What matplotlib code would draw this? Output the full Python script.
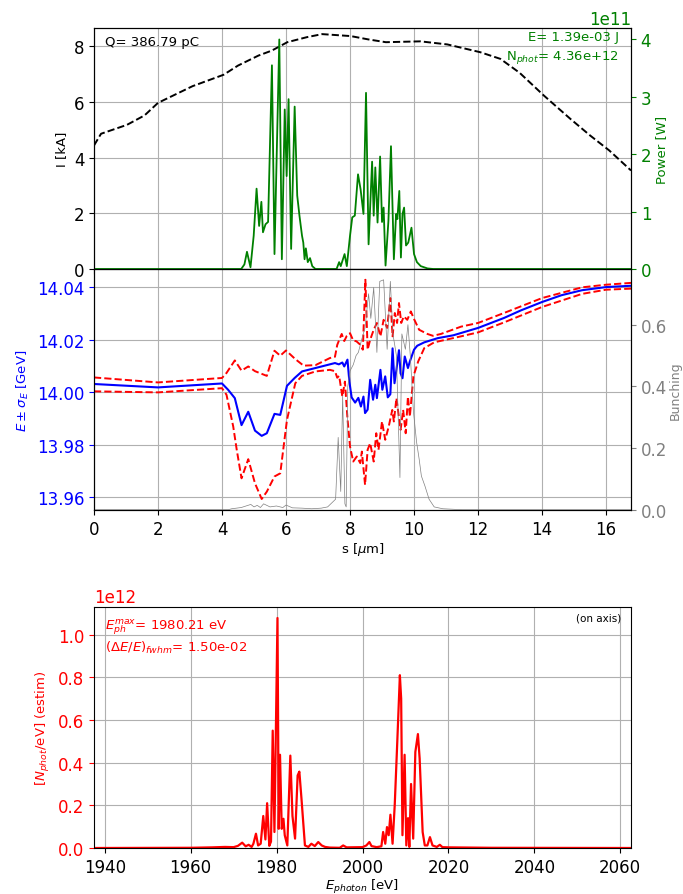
import numpy as np
import matplotlib
matplotlib.use("Agg")
import matplotlib.pyplot as plt

# ---------------- beam current and radiated power along the bunch ----------------
s_current = [0.0, 0.22, 1.03, 1.58, 2.0, 3.08, 4.05, 4.5, 5.14, 5.56, 6.04, 6.65, 7.13,
             8.02, 8.57, 9.12, 10.2, 11.04, 12.07, 12.7, 13.3, 14.06, 14.88, 15.5, 16.1, 16.78]
current_kA = [4.44, 4.86, 5.18, 5.52, 5.97, 6.57, 6.98, 7.31, 7.67, 7.85, 8.15, 8.33, 8.44,
              8.37, 8.25, 8.15, 8.18, 8.07, 7.79, 7.55, 7.05, 6.23, 5.40, 4.80, 4.26, 3.54]

s_power = [0.0, 4.6, 4.70, 4.78, 4.89, 4.99, 5.08, 5.16, 5.23, 5.28, 5.36, 5.44, 5.56, 5.64,
           5.79, 5.87, 5.96, 6.02, 6.08, 6.16, 6.27, 6.35, 6.42, 6.50, 6.54, 6.58, 6.62, 6.68,
           6.75, 6.82, 6.92, 7.58, 7.66, 7.71, 7.83, 7.90, 8.00, 8.07, 8.15, 8.25, 8.33, 8.42,
           8.50, 8.58, 8.69, 8.74, 8.79, 8.86, 8.94, 9.00, 9.05, 9.11, 9.20, 9.28, 9.37, 9.44,
           9.48, 9.54, 9.59, 9.64, 9.69, 9.75, 9.82, 9.92, 10.00, 10.09, 10.21, 10.42, 10.6,
           16.78]
power_1e11 = [0.0, 0.0, 0.08, 0.30, 0.03, 0.58, 1.40, 0.75, 1.17, 0.64, 0.78, 0.82, 3.55, 0.26,
              4.00, 0.17, 2.78, 1.62, 2.96, 0.35, 2.83, 1.28, 0.93, 0.58, 0.46, 0.17, 0.36, 0.12,
              0.19, 0.05, 0.0, 0.0, 0.12, 0.05, 0.26, 0.05, 0.58, 0.90, 0.93, 1.65, 1.39, 0.96,
              3.07, 0.43, 1.87, 0.93, 1.77, 0.81, 1.96, 0.82, 1.07, 0.06, 0.84, 2.14, 0.17, 0.96,
              0.87, 1.36, 0.20, 0.96, 1.07, 0.41, 0.46, 0.72, 0.26, 0.12, 0.05, 0.01, 0.0,
              0.0]

# ---------------- slice energy, energy spread envelope and bunching ----------------
s_mean = [0.0, 2.0, 4.0, 4.19, 4.40, 4.61, 4.82, 5.03, 5.24, 5.40, 5.64, 5.82, 6.03, 6.27,
          6.50, 6.92, 7.53, 7.65, 7.76, 7.82, 7.92, 7.98, 8.05, 8.16, 8.26, 8.34, 8.42, 8.47,
          8.55, 8.63, 8.72, 8.79, 8.84, 8.95, 9.01, 9.10, 9.18, 9.26, 9.33, 9.39, 9.45, 9.53,
          9.58, 9.64, 9.71, 9.81, 9.87, 10.0, 10.1, 10.32, 10.74, 11.23, 12.0, 12.81, 13.34,
          14.0, 14.61, 15.25, 16.0, 16.78]
E_mean = [14.0031, 14.0018, 14.0033, 14.0009, 13.9977, 13.9874, 13.9925, 13.9853, 13.9833,
          13.9843, 13.9917, 13.9913, 14.0024, 14.0054, 14.0079, 14.0092, 14.0111, 14.0106,
          14.0113, 14.0098, 14.0124, 14.0040, 13.9980, 13.9960, 13.9978, 13.9945, 13.9983,
          13.9920, 13.9933, 14.0047, 13.9971, 14.0028, 13.9977, 14.0085, 14.0009, 14.0060,
          13.9980, 13.9992, 14.0167, 14.0034, 14.0085, 14.0160, 14.0072, 14.0053, 14.0136,
          14.0092, 14.0117, 14.0162, 14.0177, 14.0190, 14.0206, 14.0217, 14.0245, 14.0283,
          14.0312, 14.0344, 14.0370, 14.0389, 14.0401, 14.0406]

s_upper = [0.0, 2.0, 4.0, 4.14, 4.40, 4.61, 4.82, 5.03, 5.40, 5.64, 5.82, 6.00, 6.29, 6.55,
           6.92, 7.37, 7.53, 7.60, 7.68, 7.74, 7.82, 7.90, 8.00, 8.10, 8.20, 8.32, 8.40, 8.48,
           8.55, 8.63, 8.74, 8.84, 8.95, 9.05, 9.16, 9.26, 9.33, 9.40, 9.47, 9.53, 9.60, 9.68,
           9.79, 9.90, 10.0, 10.16, 10.42, 10.59, 10.84, 11.47, 12.0, 12.81, 14.0, 15.25, 16.0,
           16.78]
E_upper = [14.0056, 14.0037, 14.0054, 14.0073, 14.0121, 14.0082, 14.0098, 14.0080, 14.0062,
           14.0158, 14.0139, 14.0159, 14.0126, 14.0101, 14.0103, 14.0130, 14.0135, 14.0180,
           14.0205, 14.0222, 14.0195, 14.0215, 14.0225, 14.0197, 14.0194, 14.0181, 14.0162,
           14.0429, 14.0162, 14.0200, 14.0238, 14.0264, 14.0213, 14.0276, 14.0245, 14.0359,
           14.0213, 14.0302, 14.0264, 14.0340, 14.0264, 14.0289, 14.0276, 14.0308, 14.0279,
           14.0238, 14.0222, 14.0215, 14.0222, 14.0250, 14.0264, 14.0302, 14.0359, 14.0400,
           14.0410, 14.0417]

s_lower = [0.0, 2.0, 4.0, 4.14, 4.35, 4.46, 4.61, 4.82, 5.03, 5.24, 5.40, 5.64, 5.82, 6.03,
           6.29, 6.50, 6.92, 7.37, 7.53, 7.60, 7.66, 7.76, 7.84, 7.92, 8.0, 8.10, 8.21, 8.32,
           8.37, 8.47, 8.55, 8.63, 8.74, 8.82, 8.89, 9.00, 9.10, 9.21, 9.32, 9.37, 9.45, 9.58,
           9.66, 9.74, 9.81, 9.87, 9.98, 10.13, 10.32, 10.63, 11.47, 12.0, 12.81, 14.0, 15.25,
           16.0, 16.78]
E_lower = [14.0003, 13.9999, 14.0015, 13.9990, 13.9869, 13.9780, 13.9671, 13.9744, 13.9652,
           13.9592, 13.9620, 13.9678, 13.9690, 13.9894, 14.0034, 14.0062, 14.0079, 14.0085,
           14.0080, 14.0055, 14.0062, 13.9983, 14.0040, 13.9900, 13.9792, 13.9735, 13.9754,
           13.9729, 13.9773, 13.9646, 13.9780, 13.9805, 13.9735, 13.9843, 13.9780, 13.9888,
           13.9818, 13.9869, 13.9932, 13.9888, 13.9977, 13.9856, 13.9932, 13.9843, 13.9983,
           13.9907, 14.0060, 14.0117, 14.0168, 14.0190, 14.0213, 14.0228, 14.0266, 14.0325,
           14.0375, 14.0391, 14.0395]

s_bunch = [0.0, 4.2, 4.3, 4.6, 4.9, 5.0, 5.1, 5.2, 5.3, 5.5, 5.7, 5.9, 6.0, 6.2, 6.5, 6.8,
           7.1, 7.3, 7.45, 7.55, 7.63, 7.71, 7.77, 7.84, 7.88, 7.93, 8.0, 8.1, 8.19, 8.26,
           8.36, 8.47, 8.58, 8.65, 8.74, 8.84, 8.93, 9.05, 9.16, 9.26, 9.34, 9.45, 9.56, 9.62,
           9.73, 9.81, 9.89, 9.98, 10.08, 10.16, 10.23, 10.34, 10.47, 10.63, 10.9, 11.5, 16.78]
bunching = [0.001, 0.001, 0.004, 0.008, 0.018, 0.010, 0.015, 0.008, 0.020, 0.010, 0.013,
            0.008, 0.016, 0.007, 0.006, 0.004, 0.006, 0.010, 0.025, 0.035, 0.235, 0.060,
            0.370, 0.020, 0.010, 0.400, 0.450, 0.470, 0.500, 0.510, 0.550, 0.590, 0.700,
            0.620, 0.720, 0.510, 0.740, 0.745, 0.520, 0.740, 0.570, 0.500, 0.105, 0.570,
            0.520, 0.600, 0.490, 0.320, 0.220, 0.165, 0.110, 0.078, 0.035, 0.010, 0.004,
            0.001, 0.001]

# ---------------- on-axis photon spectrum ----------------
E_photon = [1937.5, 1960.0, 1965.0, 1968.0, 1970.0, 1971.0, 1972.0, 1972.8, 1973.5, 1974.2,
            1974.6, 1975.2, 1975.7, 1976.3, 1976.9, 1977.4, 1977.8, 1978.3, 1978.7, 1979.1,
            1979.5, 1980.21, 1980.5, 1980.8, 1981.2, 1981.6, 1981.9, 1982.5, 1983.2, 1983.7,
            1984.3, 1984.9, 1985.3, 1985.8, 1986.6, 1987.4, 1988.1, 1988.9, 1989.7, 1990.5,
            1991.3, 1992.4, 1994.7, 1995.5, 1996.3, 2000.0, 2000.9, 2001.6, 2002.1, 2003.3,
            2004.4, 2004.8, 2005.3, 2005.7, 2006.1, 2006.5, 2007.0, 2007.5, 2008.1, 2008.7,
            2009.0, 2009.3, 2009.8, 2010.2, 2010.6, 2010.9, 2011.3, 2011.8, 2012.3, 2012.9,
            2013.3, 2014.0, 2014.5, 2015.1, 2015.7, 2016.3, 2017.3, 2018.0, 2018.6, 2020.0,
            2025.0, 2030.0, 2062.5]
spectrum_1e12 = [0.0, 0.001, 0.003, 0.005, 0.004, 0.010, 0.025, 0.008, 0.015, 0.005,
                 0.020, 0.067, 0.012, 0.020, 0.150, 0.040, 0.210, 0.010, 0.030, 0.550,
                 0.075, 1.078, 0.090, 0.437, 0.090, 0.137, 0.060, 0.012, 0.433, 0.150,
                 0.044, 0.340, 0.358, 0.230, 0.012, 0.005, 0.020, 0.009, 0.028, 0.012,
                 0.005, 0.002, 0.001, 0.012, 0.003, 0.004, 0.012, 0.028, 0.009, 0.004,
                 0.008, 0.075, 0.020, 0.098, 0.060, 0.156, 0.020, 0.200, 0.500, 0.810,
                 0.700, 0.060, 0.437, 0.012, 0.140, 0.005, 0.300, 0.044, 0.450, 0.534,
                 0.420, 0.075, 0.012, 0.012, 0.051, 0.012, 0.005, 0.015, 0.004, 0.003,
                 0.002, 0.001, 0.0]

charge_pC = 386.79
pulse_energy_J = 1.39e-03
n_phot = 4.36e+12
bandwidth_fwhm = 1.50e-02

# ---------------- figure ----------------
W, H = 683, 895
fig = plt.figure(figsize=(W / 100, H / 100), dpi=100)

left, width = 94 / W, 537 / W
ax_cur = fig.add_axes([left, (H - 270) / H, width, 241 / H])
ax_en = fig.add_axes([left, (H - 511) / H, width, 241 / H], sharex=ax_cur)
ax_sp = fig.add_axes([left, (H - 849) / H, width, 241.5 / H])

tick_fs = 12
label_fs = 9.5

# current profile + power
ax_cur.plot(s_current, current_kA, 'k--', lw=1.4)
ax_cur.set_ylabel('I [kA]', fontsize=label_fs)
ax_cur.set_ylim(0, 8.66)
ax_cur.grid(True)
ax_cur.tick_params(labelsize=tick_fs, labelbottom=False)
ax_cur.text(0.02, 0.931, f'Q= {charge_pC:.2f} pC', transform=ax_cur.transAxes,
            fontsize=label_fs, ha='left', va='baseline')

ax_pow = ax_cur.twinx()
power_W = np.array(power_1e11) * 1e11
ax_pow.plot(s_power, power_W, color='g', lw=1.3)
ax_pow.set_ylim(0, 1.05 * power_W.max())
ax_pow.set_ylabel('Power [W]', color='g', fontsize=label_fs, labelpad=3)
ax_pow.tick_params(axis='y', colors='g', labelsize=tick_fs)
ax_pow.yaxis.get_offset_text().set_color('g')
ax_pow.yaxis.get_offset_text().set_fontsize(tick_fs)
ax_pow.text(0.978, 0.951, f'E= {pulse_energy_J:.2e} J', transform=ax_pow.transAxes,
            fontsize=label_fs, color='g', ha='right', va='baseline')
ax_pow.text(0.978, 0.871, r'N$_{phot}$' + f'= {n_phot:.2e}', transform=ax_pow.transAxes,
            fontsize=label_fs, color='g', ha='right', va='baseline')

# energy and spread
ax_en.plot(s_mean, E_mean, color='b', lw=1.5)
ax_en.plot(s_upper, E_upper, 'r--', lw=1.4)
ax_en.plot(s_lower, E_lower, 'r--', lw=1.4)
ax_en.set_ylim(13.955, 14.047)
ax_en.set_xlim(0, 16.78)
ax_en.set_ylabel(r'$E\pm\sigma_E$ [GeV]', color='b', fontsize=label_fs)
ax_en.set_xlabel(r's [$\mu$m]', fontsize=label_fs, labelpad=2)
ax_en.tick_params(axis='y', colors='b', labelsize=tick_fs)
ax_en.tick_params(axis='x', labelsize=tick_fs)
ax_en.grid(True)

ax_b = ax_en.twinx()
ax_b.plot(s_bunch, bunching, color='grey', lw=0.5)
ax_b.set_ylim(0, 0.78)
ax_b.set_yticks([0.0, 0.2, 0.4, 0.6])
ax_b.set_ylabel('Bunching', color='grey', fontsize=9, labelpad=1)
ax_b.tick_params(axis='y', colors='grey', labelsize=tick_fs)

# spectrum
spec = np.array(spectrum_1e12) * 1e12
ax_sp.plot(E_photon, spec, color='r', lw=1.6)
ax_sp.set_xlim(1937.5, 2062.5)
ax_sp.set_ylim(0, 1.05 * spec.max())
ax_sp.grid(True)
ax_sp.set_ylabel(r'[$N_{phot}$/eV] (estim)', color='r', fontsize=label_fs)
ax_sp.set_xlabel(r'$E_{photon}$ [eV]', fontsize=label_fs, labelpad=1)
ax_sp.tick_params(axis='y', colors='r', labelsize=tick_fs)
ax_sp.tick_params(axis='x', labelsize=tick_fs)
ax_sp.yaxis.get_offset_text().set_color('r')
ax_sp.yaxis.get_offset_text().set_fontsize(tick_fs)
E_peak = E_photon[int(np.argmax(spec))]
ax_sp.text(0.02, 0.910, r'$E_{ph}^{max}$' + f'= {E_peak:.2f} eV', transform=ax_sp.transAxes,
           fontsize=label_fs, color='r', ha='left', va='baseline')
ax_sp.text(0.02, 0.816, r'$(\Delta E/E)_{fwhm}$' + f'= {bandwidth_fwhm:.2e}',
           transform=ax_sp.transAxes, fontsize=label_fs, color='r', ha='left', va='baseline')
ax_sp.text(0.981, 0.940, '(on axis)', transform=ax_sp.transAxes, fontsize=7.5,
           ha='right', va='baseline')

fig.savefig('out.png', dpi=100)
